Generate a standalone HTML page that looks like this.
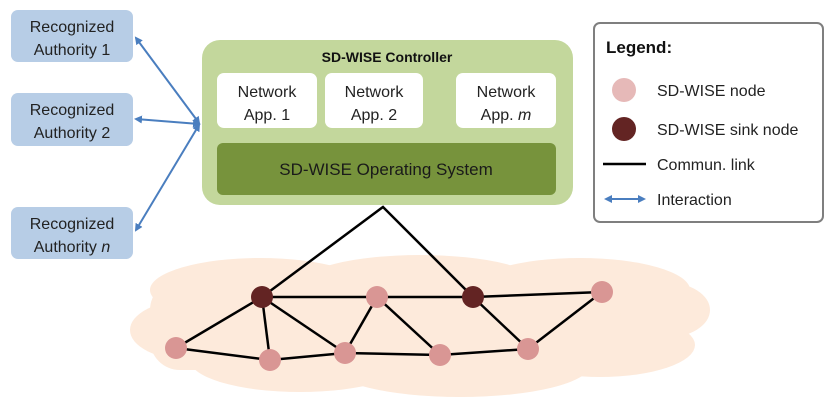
<!DOCTYPE html>
<html><head><style>body{margin:0;background:#fff}svg{display:block}text{font-family:"Liberation Sans",sans-serif}</style></head>
<body>
<svg width="831" height="409" viewBox="0 0 831 409" xmlns="http://www.w3.org/2000/svg">
<defs>
<marker id="a" markerWidth="8" markerHeight="8" refX="6" refY="4" orient="auto-start-reverse" markerUnits="userSpaceOnUse"><path d="M0,0 L8,4 L0,8 z" fill="#4a7ebf"/></marker>
</defs>
<!-- cloud -->
<g fill="#fdeadb">
<rect x="150" y="280" width="520" height="90" rx="30"/>
<ellipse cx="260" cy="290" rx="110" ry="32"/>
<ellipse cx="420" cy="285" rx="120" ry="30"/>
<ellipse cx="580" cy="290" rx="110" ry="32"/>
<ellipse cx="190" cy="330" rx="60" ry="30"/>
<ellipse cx="300" cy="360" rx="110" ry="32"/>
<ellipse cx="460" cy="365" rx="130" ry="32"/>
<ellipse cx="600" cy="345" rx="95" ry="32"/>
<ellipse cx="665" cy="310" rx="45" ry="28"/>
</g>
<!-- authorities -->
<g fill="#b7cde6">
<rect x="11" y="10" width="122" height="52" rx="7"/>
<rect x="11" y="93" width="122" height="53" rx="7"/>
<rect x="11" y="207" width="122" height="52" rx="7"/>
</g>
<g font-size="16" fill="#222" text-anchor="middle">
<text x="72" y="32">Recognized</text><text x="72" y="55">Authority 1</text>
<text x="72" y="115">Recognized</text><text x="72" y="138">Authority 2</text>
<text x="72" y="229">Recognized</text><text x="72" y="252">Authority <tspan font-style="italic">n</tspan></text>
</g>
<g stroke="#4a7ebf" stroke-width="2" marker-start="url(#a)" marker-end="url(#a)">
<line x1="136" y1="38" x2="199" y2="123"/>
<line x1="136" y1="119" x2="199" y2="124"/>
<line x1="136" y1="230" x2="199" y2="125"/>
</g>
<!-- controller -->
<rect x="202" y="40" width="371" height="165" rx="18" fill="#c3d79c"/>
<text x="387" y="62" font-size="14" font-weight="bold" text-anchor="middle" fill="#111">SD-WISE Controller</text>
<g fill="#fff"><rect x="217" y="73" width="100" height="55" rx="7"/><rect x="325" y="73" width="98" height="55" rx="7"/><rect x="456" y="73" width="100" height="55" rx="7"/></g>
<g font-size="16" fill="#222" text-anchor="middle">
<text x="267" y="97">Network</text><text x="267" y="120">App. 1</text>
<text x="374" y="97">Network</text><text x="374" y="120">App. 2</text>
<text x="506" y="97">Network</text><text x="506" y="120">App. <tspan font-style="italic">m</tspan></text>
</g>
<rect x="217" y="143" width="339" height="52" rx="6" fill="#77933c"/>
<text x="386" y="175" font-size="17" text-anchor="middle" fill="#1a1a1a">SD-WISE Operating System</text>
<!-- links -->
<g stroke="#000" stroke-width="2.5" fill="none">
<polyline points="262,297 383,207 473,297"/>
<line x1="262" y1="297" x2="473" y2="297"/>
<line x1="473" y1="297" x2="602" y2="292"/>
<line x1="262" y1="297" x2="176" y2="348"/>
<line x1="262" y1="297" x2="270" y2="360"/>
<line x1="262" y1="297" x2="345" y2="353"/>
<line x1="377" y1="297" x2="345" y2="353"/>
<line x1="377" y1="297" x2="440" y2="355"/>
<line x1="473" y1="297" x2="528" y2="349"/>
<line x1="602" y1="292" x2="528" y2="349"/>
<polyline points="176,348 270,360 345,353 440,355 528,349"/>
</g>
<g fill="#d99694">
<circle cx="377" cy="297" r="11"/><circle cx="602" cy="292" r="11"/><circle cx="176" cy="348" r="11"/>
<circle cx="270" cy="360" r="11"/><circle cx="345" cy="353" r="11"/><circle cx="440" cy="355" r="11"/><circle cx="528" cy="349" r="11"/>
</g>
<g fill="#632423"><circle cx="262" cy="297" r="11"/><circle cx="473" cy="297" r="11"/></g>
<!-- legend -->
<rect x="594" y="23" width="229" height="199" rx="6" fill="#fff" stroke="#7f7f7f" stroke-width="2"/>
<text x="606" y="53" font-size="17" font-weight="bold" fill="#111">Legend:</text>
<circle cx="624" cy="90" r="12" fill="#e6b9b8"/>
<circle cx="624" cy="129" r="12" fill="#632423"/>
<line x1="603" y1="164" x2="646" y2="164" stroke="#000" stroke-width="2.5"/>
<line x1="606" y1="199" x2="644" y2="199" stroke="#4a7ebf" stroke-width="2" marker-start="url(#a)" marker-end="url(#a)"/>
<g font-size="16" fill="#222">
<text x="657" y="96">SD-WISE node</text>
<text x="657" y="135">SD-WISE sink node</text>
<text x="657" y="170">Commun. link</text>
<text x="657" y="205">Interaction</text>
</g>
</svg>
</body></html>
